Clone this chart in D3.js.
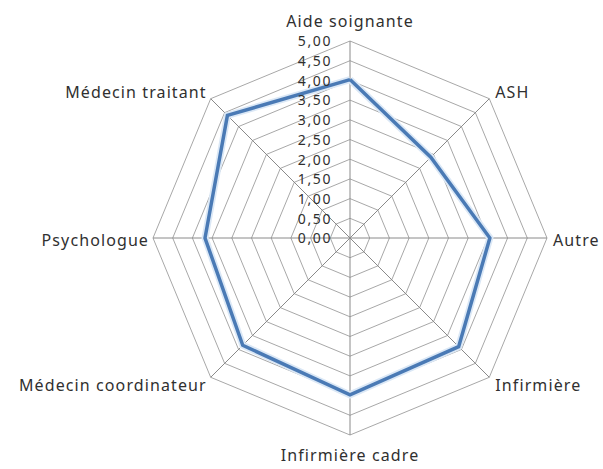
<html lang="fr">
<head>
	<meta charset="UTF-8">
	<title>Radar</title>
	<script src="https://cdn.jsdelivr.net/npm/d3@7"></script>
</head>
<style>
html,body {margin:0;padding:0;background:#fff;}
svg text {font-family:"Noto Sans", "DejaVu Sans", sans-serif;fill:#303030;letter-spacing:1.1px;}
svg text.tick {letter-spacing:1.6px;}
</style>
<body>
	<div id="chart"></div>
</body>
<script>
// données
const categories = ['Aide soignante', 'ASH', 'Autre', 'Infirmière', 'Infirmière cadre', 'Médecin coordinateur', 'Psychologue', 'Médecin traitant'];
const values = [4.02, 2.9, 3.55, 3.9, 3.98, 3.85, 3.68, 4.4];
const ticks = [0, 0.5, 1, 1.5, 2, 2.5, 3, 3.5, 4, 4.5, 5];

const W = 603, H = 469;
const cx = 350, cy = 238;

const svg = d3.select('#chart').append('svg')
	.attr('width', W)
	.attr('height', H);

const r = d3.scaleLinear().domain([0, 5]).range([0, 197]);
const angle = d3.scaleLinear().domain([0, categories.length]).range([0, 2 * Math.PI]);

const g = svg.append('g').attr('transform', 'translate(' + cx + ',' + cy + ')');

// point sur un axe
function pt(i, v) {
	let a = angle(i);
	return [r(v) * Math.sin(a), -r(v) * Math.cos(a)];
}

// anneaux
const line = d3.line();
ticks.slice(1).forEach(function (t) {
	let pts = categories.map(function (c, i) { return pt(i, t); });
	pts.push(pts[0]);
	g.append('path')
		.attr('d', line(pts))
		.attr('fill', 'none')
		.attr('stroke', '#a8a8a8')
		.attr('stroke-width', 1);
});

// rayons
categories.forEach(function (c, i) {
	let p = pt(i, 5);
	g.append('line')
		.attr('x1', 0).attr('y1', 0)
		.attr('x2', p[0]).attr('y2', p[1])
		.attr('stroke', '#8a8a8a')
		.attr('stroke-width', 1);
});

// série
let sPts = values.map(function (v, i) { return pt(i, v); });
sPts.push(sPts[0]);
g.append('path')
	.attr('d', line(sPts))
	.attr('fill', 'none')
	.attr('stroke', '#dbe8f6')
	.attr('stroke-width', 7)
	.attr('stroke-linejoin', 'miter');
g.append('path')
	.attr('d', line(sPts))
	.attr('fill', 'none')
	.attr('stroke', '#4a7ab5')
	.attr('stroke-width', 3.5)
	.attr('stroke-linejoin', 'miter');

// étiquettes de l'axe
g.selectAll('.tick')
	.data(ticks)
	.enter().append('text')
	.attr('class', 'tick')
	.attr('x', -18)
	.attr('y', function (d) { return -r(d); })
	.attr('dy', '0.38em')
	.attr('text-anchor', 'end')
	.style('font-size', '14px')
	.text(function (d) { return d3.format('.2f')(d).replace('.', ','); });

// étiquettes des catégories
categories.forEach(function (c, i) {
	let p = pt(i, 5);
	let s = Math.sin(angle(i)), k = -Math.cos(angle(i));
	let anchor = Math.abs(s) < 0.01 ? 'middle' : (s > 0 ? 'start' : 'end');
	let dx = Math.abs(s) < 0.01 ? 0 : (s > 0 ? 6 : -4);
	let dy = Math.abs(k) < 0.01 ? 2 : (k < 0 ? -6 : 8);
	if (Math.abs(s) < 0.01) dy = k < 0 ? -20 : 20;
	g.append('text')
		.attr('x', p[0] + dx)
		.attr('y', p[1] + dy)
		.attr('dy', '0.35em')
		.attr('text-anchor', anchor)
		.style('font-size', '16px')
		.text(c);
});
</script>
</html>
